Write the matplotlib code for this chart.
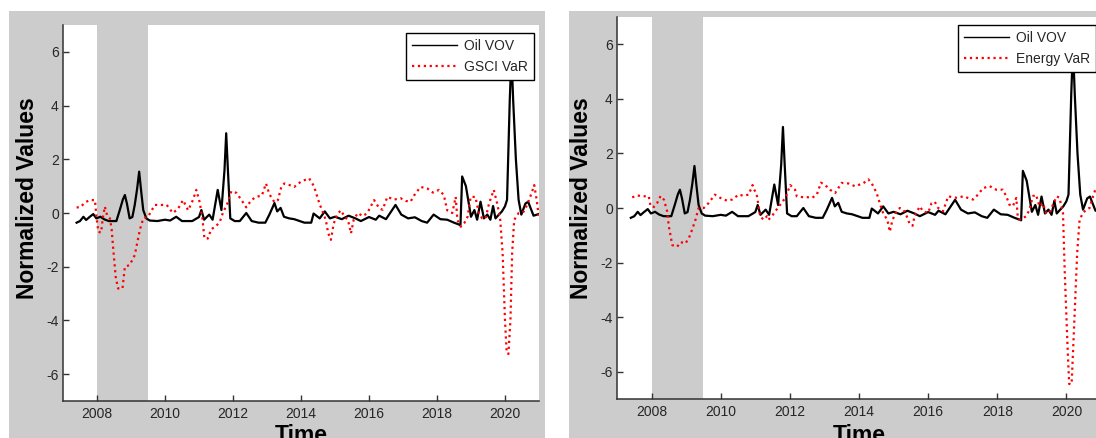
import matplotlib
matplotlib.use("Agg")
import matplotlib.pyplot as plt
from matplotlib.patches import Rectangle
from matplotlib.lines import Line2D

plt.rcParams['font.family'] = ['Liberation Sans', 'DejaVu Sans']

# ---------------- data ----------------
oil_vov_t = [2007.40, 2007.50, 2007.60, 2007.68, 2007.78, 2007.89, 2007.98, 2008.10, 2008.22, 2008.35,
             2008.45, 2008.57, 2008.67, 2008.76, 2008.82, 2008.88, 2008.96, 2009.04, 2009.11, 2009.18,
             2009.24, 2009.30, 2009.36, 2009.45, 2009.55, 2009.77, 2010.00, 2010.15, 2010.33, 2010.50,
             2010.80, 2011.00, 2011.07, 2011.15, 2011.30, 2011.40, 2011.55, 2011.66, 2011.75, 2011.80,
             2011.85, 2011.92, 2012.05, 2012.20, 2012.39, 2012.55, 2012.75, 2012.95, 2013.07, 2013.22,
             2013.30, 2013.40, 2013.50, 2013.65, 2013.80, 2014.10, 2014.30, 2014.37, 2014.55, 2014.70,
             2014.85, 2015.00, 2015.20, 2015.40, 2015.60, 2015.76, 2016.00, 2016.20, 2016.30, 2016.50,
             2016.78, 2016.95, 2017.15, 2017.35, 2017.55, 2017.71, 2017.90, 2018.10, 2018.30, 2018.50,
             2018.69, 2018.74, 2018.85, 2019.00, 2019.10, 2019.18, 2019.28, 2019.38, 2019.48, 2019.57,
             2019.65, 2019.72, 2019.82, 2019.91, 2020.00, 2020.06, 2020.14, 2020.19, 2020.24, 2020.32,
             2020.40, 2020.48, 2020.60, 2020.68, 2020.84, 2020.99]
oil_vov_v = [-0.36, -0.30, -0.14, -0.26, -0.15, -0.04, -0.20, -0.14, -0.24, -0.30,
             -0.30, -0.30, 0.11, 0.50, 0.67, 0.35, -0.20, -0.15, 0.30, 0.90,
             1.54, 0.80, 0.11, -0.20, -0.28, -0.30, -0.25, -0.28, -0.14, -0.30,
             -0.30, -0.15, 0.11, -0.25, -0.06, -0.25, 0.86, 0.11, 1.60, 2.97,
             1.60, -0.20, -0.30, -0.30, 0.00, -0.30, -0.36, -0.36, -0.06, 0.37,
             0.06, 0.19, -0.14, -0.20, -0.23, -0.36, -0.36, -0.02, -0.20, 0.06,
             -0.20, -0.14, -0.23, -0.10, -0.20, -0.30, -0.15, -0.25, -0.10, -0.23,
             0.30, -0.06, -0.20, -0.16, -0.30, -0.36, -0.06, -0.23, -0.25, -0.36,
             -0.45, 1.36, 1.00, -0.14, 0.11, -0.25, 0.42, -0.20, -0.06, -0.25,
             0.26, -0.20, -0.06, 0.06, 0.25, 0.49, 4.20, 5.90, 4.20, 2.00,
             0.49, -0.06, 0.35, 0.42, -0.10, -0.04]

gsci_var_t = [2007.40, 2007.50, 2007.66, 2007.78, 2007.94, 2007.98, 2008.04, 2008.12, 2008.17, 2008.23,
              2008.30, 2008.38, 2008.43, 2008.48, 2008.55, 2008.62, 2008.75, 2008.82, 2008.96, 2009.11,
              2009.26, 2009.36, 2009.50, 2009.70, 2009.85, 2010.05, 2010.23, 2010.38, 2010.53, 2010.68,
              2010.82, 2010.92, 2011.02, 2011.10, 2011.16, 2011.26, 2011.36, 2011.50, 2011.62, 2011.70,
              2011.85, 2011.95, 2012.10, 2012.25, 2012.39, 2012.54, 2012.68, 2012.85, 2012.97, 2013.07,
              2013.22, 2013.32, 2013.42, 2013.51, 2013.66, 2013.80, 2014.00, 2014.24, 2014.38, 2014.54,
              2014.73, 2014.80, 2014.88, 2014.96, 2015.08, 2015.18, 2015.28, 2015.38, 2015.47, 2015.55,
              2015.67, 2015.82, 2015.95, 2016.05, 2016.15, 2016.30, 2016.40, 2016.54, 2016.74, 2016.93,
              2017.08, 2017.22, 2017.36, 2017.52, 2017.72, 2017.88, 2018.06, 2018.20, 2018.30, 2018.45,
              2018.55, 2018.60, 2018.70, 2018.80, 2018.90, 2018.99, 2019.13, 2019.23, 2019.33, 2019.43,
              2019.53, 2019.67, 2019.78, 2019.86, 2019.93, 2020.00, 2020.05, 2020.10, 2020.16, 2020.21,
              2020.27, 2020.40, 2020.55, 2020.65, 2020.78, 2020.86, 2020.93, 2020.99]
gsci_var_v = [0.21, 0.21, 0.40, 0.48, 0.48, -0.10, -0.70, -0.73, -0.20, 0.24,
              -0.10, -0.20, -0.60, -1.38, -2.38, -2.81, -2.81, -2.00, -1.94, -1.57,
              -0.63, -0.20, -0.14, 0.30, 0.30, 0.30, 0.00, 0.15, 0.48, 0.10,
              0.48, 0.86, 0.40, -0.20, -0.95, -0.95, -0.60, -0.50, -0.30, 0.00,
              0.40, 0.81, 0.75, 0.48, 0.21, 0.48, 0.60, 0.65, 1.10, 0.70,
              0.40, 0.48, 0.97, 1.10, 1.04, 0.97, 1.17, 1.29, 1.00, 0.36,
              -0.26, -0.75, -1.00, -0.40, -0.02, 0.10, -0.15, -0.25, -0.76, -0.25,
              0.00, -0.12, 0.00, 0.24, 0.48, 0.18, 0.12, 0.60, 0.50, 0.55,
              0.45, 0.42, 0.72, 0.97, 0.91, 0.76, 0.86, 0.67, 0.10, 0.00,
              0.60, -0.26, -0.51, -0.38, -0.14, 0.60, 0.60, 0.00, -0.20, -0.20,
              0.35, 0.86, 0.30, -0.26, -1.50, -4.00, -5.20, -5.25, -4.00, -1.50,
              -0.26, 0.00, 0.05, 0.30, 0.73, 1.04, 0.50, -0.10]

energy_var_t = [2007.44, 2007.59, 2007.73, 2007.92, 2007.97, 2008.07, 2008.16, 2008.26, 2008.36, 2008.45,
                2008.50, 2008.60, 2008.74, 2008.84, 2008.98, 2009.08, 2009.17, 2009.27, 2009.36, 2009.51,
                2009.65, 2009.83, 2009.99, 2010.18, 2010.33, 2010.52, 2010.66, 2010.81, 2010.92, 2011.05,
                2011.14, 2011.24, 2011.34, 2011.38, 2011.48, 2011.58, 2011.72, 2011.87, 2012.01, 2012.15,
                2012.20, 2012.35, 2012.49, 2012.64, 2012.78, 2012.90, 2013.02, 2013.16, 2013.31, 2013.50,
                2013.69, 2013.88, 2014.12, 2014.27, 2014.37, 2014.51, 2014.60, 2014.70, 2014.82, 2014.89,
                2014.97, 2015.09, 2015.18, 2015.28, 2015.38, 2015.47, 2015.55, 2015.61, 2015.76, 2015.85,
                2016.00, 2016.10, 2016.19, 2016.29, 2016.43, 2016.58, 2016.72, 2016.86, 2017.01, 2017.15,
                2017.30, 2017.44, 2017.59, 2017.78, 2017.97, 2018.16, 2018.26, 2018.35, 2018.45, 2018.55,
                2018.59, 2018.64, 2018.74, 2018.84, 2018.93, 2019.03, 2019.12, 2019.22, 2019.32, 2019.41,
                2019.51, 2019.61, 2019.72, 2019.80, 2019.90, 2019.95, 2020.04, 2020.08, 2020.15, 2020.19,
                2020.31, 2020.38, 2020.47, 2020.57, 2020.67, 2020.77, 2020.85, 2020.92, 2020.99]
energy_var_v = [0.39, 0.46, 0.43, 0.43, 0.06, 0.04, 0.18, 0.44, 0.30, -0.12,
                -0.68, -1.36, -1.42, -1.25, -1.30, -1.10, -0.80, -0.43, 0.00, 0.00,
                0.18, 0.49, 0.37, 0.27, 0.31, 0.49, 0.45, 0.49, 0.84, 0.43,
                -0.30, -0.43, -0.30, -0.43, -0.30, -0.12, 0.12, 0.37, 0.84, 0.67,
                0.43, 0.40, 0.40, 0.37, 0.49, 0.93, 0.84, 0.67, 0.55, 0.92,
                0.90, 0.80, 0.90, 1.05, 0.90, 0.55, 0.18, -0.20, -0.43, -0.87,
                -0.43, -0.12, 0.00, -0.06, -0.30, -0.60, -0.65, -0.28, 0.06, -0.12,
                -0.18, 0.18, 0.23, 0.00, -0.12, 0.43, 0.39, 0.37, 0.43, 0.37,
                0.31, 0.49, 0.73, 0.80, 0.67, 0.67, 0.43, 0.12, 0.06, 0.37,
                -0.30, -0.43, -0.37, -0.30, -0.06, 0.43, 0.49, 0.06, 0.18, -0.18,
                -0.18, 0.12, 0.43, 0.37, -0.18, -2.30, -5.33, -6.45, -6.45, -5.30,
                -1.67, -0.44, -0.20, -0.06, 0.00, 0.43, 0.72, 0.60, -0.05]

recession = (2008.0, 2009.5)
x_ticks = [2008, 2010, 2012, 2014, 2016, 2018, 2020]
y_ticks = [-6, -4, -2, 0, 2, 4, 6]
labels_left = ["Oil VOV", "GSCI VaR"]
labels_right = ["Oil VOV", "Energy VaR"]

# ---------------- figure ----------------
W, H = 1096, 438
fig = plt.figure(figsize=(W / 100, H / 100), dpi=100, facecolor='white')
GRAY = '#cccccc'
TXT = '#262626'

def fx(px):
    return px / W

def fy(py):
    return 1 - py / H

# gray panel backgrounds
fig.patches.append(Rectangle((fx(9), 0), fx(545) - fx(9), fy(11), transform=fig.transFigure,
                             facecolor=GRAY, edgecolor='none', zorder=-10))
fig.patches.append(Rectangle((fx(569), 0), 1 - fx(569), fy(11), transform=fig.transFigure,
                             facecolor=GRAY, edgecolor='none', zorder=-10))


def make_panel(rect_px, ylab_x, red_t, red_v, labels):
    l, t, r, b = rect_px
    ax = fig.add_axes([fx(l), fy(b), fx(r) - fx(l), (b - t) / H])
    ax.set_facecolor('white')
    ax.axvspan(recession[0], recession[1], color=GRAY, lw=0, zorder=0)
    ax.plot(oil_vov_t, oil_vov_v, color='black', lw=1.6, zorder=2)
    ax.plot(red_t, red_v, color='red', lw=1.6, ls=':', zorder=3)
    ax.set_xlim(2007, 2021)
    ax.set_ylim(-7, 7)
    ax.set_xticks(x_ticks)
    ax.set_yticks(y_ticks)
    ax.set_xticklabels([str(v) for v in x_ticks])
    ax.set_yticklabels([str(v) for v in y_ticks])
    for s in ['top', 'right']:
        ax.spines[s].set_visible(False)
    for s in ['left', 'bottom']:
        ax.spines[s].set_color('#333333')
        ax.spines[s].set_linewidth(1.1)
    ax.tick_params(direction='in', length=4.5, width=1.0, color='#333333',
                   labelsize=10, labelcolor=TXT)
    ax.tick_params(axis='y', pad=3)
    ax.tick_params(axis='x', pad=4)
    ax.set_ylabel('Normalized Values', fontsize=16.5, fontweight='bold', color='black')
    ax.yaxis.set_label_coords((ylab_x - l) / (r - l), (b - 198) / (b - t))
    ax.set_xlabel('Time', fontsize=16.5, fontweight='bold', color='black', va='top')
    ax.xaxis.set_label_coords(0.5, (b - 424) / (b - t))
    handles = [Line2D([], [], color='black', lw=1.0),
               Line2D([], [], color='red', lw=1.6, ls=':')]
    leg = ax.legend(handles, labels, loc='upper right',
                    bbox_to_anchor=(1 - 5 / (r - l), 1 - 8 / (b - t)),
                    borderaxespad=0, fancybox=False, framealpha=1, fontsize=10,
                    handlelength=3.2, handletextpad=0.5, borderpad=0.45,
                    labelspacing=0.45)
    leg.get_frame().set_edgecolor('black')
    leg.get_frame().set_linewidth(1.0)
    for txt in leg.get_texts():
        txt.set_color(TXT)
    leg.set_zorder(10)
    return ax

make_panel((63, 25, 539, 401), 39, gsci_var_t, gsci_var_v, labels_left)
make_panel((617, 17, 1101, 399), 593, energy_var_t, energy_var_v, labels_right)

fig.savefig('out.png', dpi=100, facecolor='white')
